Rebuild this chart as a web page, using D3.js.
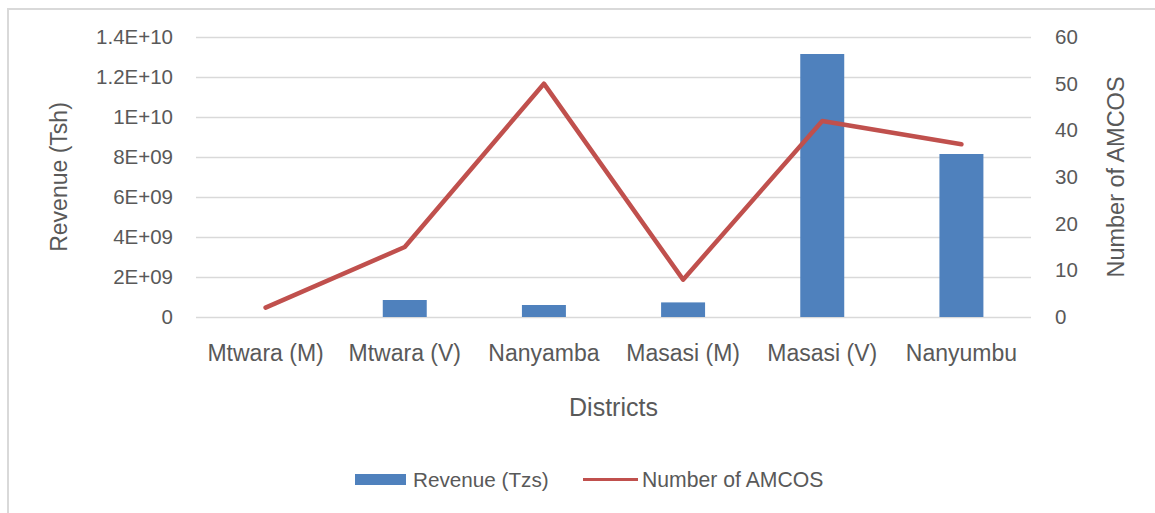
<!DOCTYPE html>
<html>
<head>
<meta charset="utf-8">
<script src="https://cdn.jsdelivr.net/npm/d3@7"></script>
<style>
  body { margin: 0; background: #fff; }
  svg { display: block; }
</style>
</head>
<body>
<svg id="chart"></svg>
<script>
var districts = ["Mtwara (M)", "Mtwara (V)", "Nanyamba", "Masasi (M)", "Masasi (V)", "Nanyumbu"]
var revenue = [0, 0.85e9, 0.6e9, 0.73e9, 13.15e9, 8.15e9]
var amcos = [2, 15, 50, 8, 42, 37]
var leftTicks = [0, 2e9, 4e9, 6e9, 8e9, 1e10, 1.2e10, 1.4e10]
var leftTickLabels = ["0", "2E+09", "4E+09", "6E+09", "8E+09", "1E+10", "1.2E+10", "1.4E+10"]
var rightTicks = [0, 10, 20, 30, 40, 50, 60]

var dimensions = {
    width: 1155,
    height: 513,
    margin: { top: 37, bottom: 196, left: 196, right: 124 }
}

var textColor = "#595959"
var font = "'Liberation Sans', Arial, sans-serif"

var svg = d3.select("#chart")
            .attr("width", dimensions.width)
            .attr("height", dimensions.height)

// outer chart border (runs off the right/bottom edge)
svg.append("rect")
   .attr("x", 8).attr("y", 9)
   .attr("width", 1160).attr("height", 520)
   .attr("fill", "none")
   .attr("stroke", "#d9d9d9")
   .attr("stroke-width", 2)

var plotBottom = dimensions.height - dimensions.margin.bottom
var plotRight = dimensions.width - dimensions.margin.right

var xScale = d3.scaleBand()
               .domain(districts)
               .range([dimensions.margin.left, plotRight])
               .paddingInner(0.684)
               .paddingOuter(0.342)

var yLeft = d3.scaleLinear()
              .domain([0, 1.4e10])
              .range([plotBottom, dimensions.margin.top])

var yRight = d3.scaleLinear()
               .domain([0, 60])
               .range([plotBottom, dimensions.margin.top])

// gridlines
svg.append("g")
   .selectAll("line")
   .data(leftTicks)
   .enter()
   .append("line")
   .attr("x1", dimensions.margin.left)
   .attr("x2", plotRight)
   .attr("y1", d => Math.round(yLeft(d)) + 0.5)
   .attr("y2", d => Math.round(yLeft(d)) + 0.5)
   .attr("stroke", "#d9d9d9")
   .attr("stroke-width", 1.5)

// left axis
var yAxisLeft = d3.axisLeft(yLeft)
                  .tickValues(leftTicks)
                  .tickFormat((d, i) => leftTickLabels[i])
                  .tickSize(0)
                  .tickPadding(23)
var gLeft = svg.append("g")
               .attr("transform", "translate(" + dimensions.margin.left + ",0)")
               .call(yAxisLeft)
gLeft.select(".domain").remove()
gLeft.selectAll("text").style("font-family", font).style("font-size", "20.5px").attr("fill", textColor)

// right axis
var yAxisRight = d3.axisRight(yRight)
                   .tickValues(rightTicks)
                   .tickSize(0)
                   .tickPadding(24)
var gRight = svg.append("g")
                .attr("transform", "translate(" + plotRight + ",0)")
                .call(yAxisRight)
gRight.select(".domain").remove()
gRight.selectAll("text").style("font-family", font).style("font-size", "20.5px").attr("fill", textColor)

// x axis labels
var xAxis = d3.axisBottom(xScale).tickSize(0).tickPadding(28)
var gX = svg.append("g")
            .attr("transform", "translate(0," + plotBottom + ")")
            .call(xAxis)
gX.select(".domain").remove()
gX.selectAll("text").style("font-family", "'Liberation Sans Narrow', " + font).style("font-size", "23px").attr("fill", textColor)

// bars
svg.append("g")
   .selectAll("rect")
   .data(districts)
   .enter()
   .append("rect")
   .attr("x", d => xScale(d))
   .attr("y", (d, i) => yLeft(revenue[i]))
   .attr("width", xScale.bandwidth())
   .attr("height", (d, i) => yLeft(0) - yLeft(revenue[i]))
   .attr("fill", "#4f81bd")

// line
var line = d3.line()
             .x((d, i) => xScale(districts[i]) + xScale.bandwidth() / 2)
             .y(d => yRight(d))
svg.append("path")
   .datum(amcos)
   .attr("d", line)
   .attr("fill", "none")
   .attr("stroke", "#c0504d")
   .attr("stroke-width", 4.5)
   .attr("stroke-linejoin", "round")
   .attr("stroke-linecap", "round")

// axis titles
svg.append("text")
   .attr("transform", "translate(67," + ((dimensions.margin.top + plotBottom) / 2) + ") rotate(-90)")
   .attr("text-anchor", "middle")
   .style("font-family", font).style("font-size", "23px")
   .attr("fill", textColor)
   .text("Revenue (Tsh)")

svg.append("text")
   .attr("transform", "translate(1124," + ((dimensions.margin.top + plotBottom) / 2) + ") rotate(-90)")
   .attr("text-anchor", "middle")
   .style("font-family", font).style("font-size", "23.5px")
   .attr("fill", textColor)
   .text("Number of AMCOS")

svg.append("text")
   .attr("x", (dimensions.margin.left + plotRight) / 2)
   .attr("y", 416)
   .attr("text-anchor", "middle")
   .style("font-family", "'Liberation Sans Narrow', " + font).style("font-size", "25px")
   .attr("fill", textColor)
   .text("Districts")

// legend
svg.append("rect").attr("x", 355).attr("y", 474).attr("width", 51).attr("height", 11).attr("fill", "#4f81bd")
svg.append("text").attr("x", 413).attr("y", 487).text("Revenue (Tzs)")
   .style("font-family", font).style("font-size", "20.7px").attr("fill", textColor)
svg.append("line").attr("x1", 583).attr("x2", 638).attr("y1", 479.5).attr("y2", 479.5)
   .attr("stroke", "#c0504d").attr("stroke-width", 3)
svg.append("text").attr("x", 642).attr("y", 487).text("Number of AMCOS")
   .style("font-family", font).style("font-size", "21.2px").attr("fill", textColor)
</script>
</body>
</html>
